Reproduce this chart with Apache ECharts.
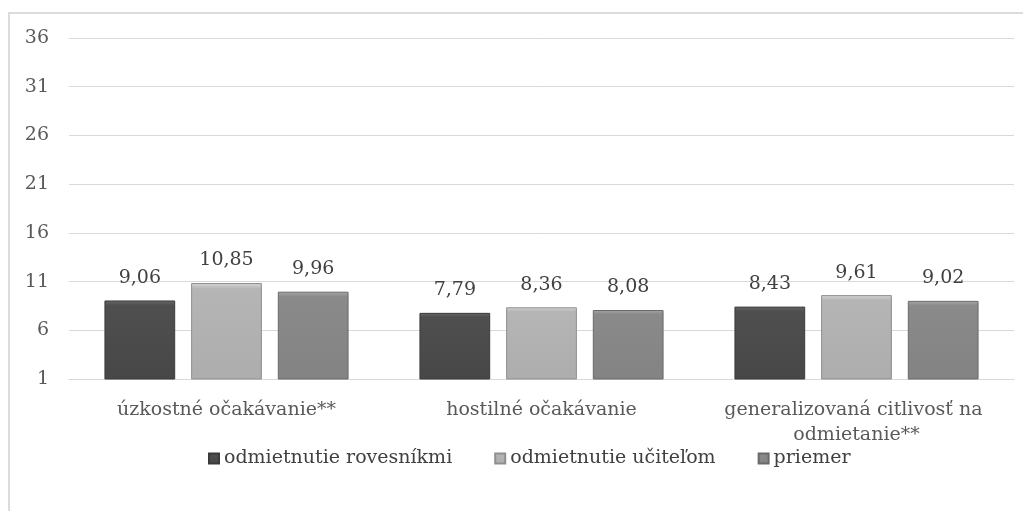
<!DOCTYPE html>
<html><head><meta charset="utf-8">
<script src="https://cdn.jsdelivr.net/npm/echarts@6/dist/echarts.min.js"></script>
<style>
html,body{margin:0;padding:0;background:#fff;}
#frame{position:absolute;left:8px;top:12px;width:1040px;height:530px;border:2px solid #dcdcdc;box-sizing:border-box;}
#main{position:absolute;left:0;top:0;width:1023px;height:511px;}
</style></head>
<body>
<div id="frame"></div>
<div id="main"></div>
<script>
const categories = ['úzkostné očakávanie**', 'hostilné očakávanie', 'generalizovaná citlivosť na odmietanie**'];
const seriesNames = ['odmietnutie rovesníkmi', 'odmietnutie učiteľom', 'priemer'];
const peers = [9.06, 7.79, 8.43];
const teacher = [10.85, 8.36, 9.61];
const average = [9.96, 8.08, 9.02];
const yTicks = [1, 6, 11, 16, 21, 26, 31, 36];

const FONT = 'DejaVu Serif';
const chart = echarts.init(document.getElementById('main'), null, {renderer: 'canvas'});
function grad(top, mid, bottom) {
  return new echarts.graphic.LinearGradient(0, 0, 0, 1, [
    {offset: 0, color: top}, {offset: 0.06, color: mid}, {offset: 1, color: bottom}
  ]);
}
const styles = [
  {color: grad('#6a6a6a', '#4f4f4f', '#474747'), borderColor: '#3a3a3a'},
  {color: grad('#d6d6d6', '#b5b5b5', '#adadad'), borderColor: '#8f8f8f'},
  {color: grad('#a8a8a8', '#8a8a8a', '#838383'), borderColor: '#6a6a6a'}
];
const values = [peers, teacher, average];
chart.setOption({
  animation: false,
  textStyle: {fontFamily: FONT},
  grid: {left: 69, right: 9, top: 38, bottom: 132, containLabel: false},
  legend: {
    bottom: 38, left: 203,
    itemWidth: 10, itemHeight: 10, itemGap: 42, icon: 'rect',
    textStyle: {fontFamily: FONT, fontSize: 19, color: '#404040'},
    data: seriesNames
  },
  xAxis: {
    type: 'category', data: categories,
    axisLine: {lineStyle: {color: '#d9d9d9', width: 1}},
    axisTick: {show: false},
    axisLabel: {fontFamily: FONT, fontSize: 19, color: '#595959', margin: 19, lineHeight: 25,
      width: 300, overflow: 'break', interval: 0}
  },
  yAxis: {
    type: 'value', min: 1, max: 36,
    axisLine: {show: false}, axisTick: {show: false, customValues: yTicks},
    axisLabel: {fontFamily: FONT, fontSize: 19, color: '#595959', margin: 20, customValues: yTicks},
    splitLine: {lineStyle: {color: '#d9d9d9', width: 1}}
  },
  series: values.map((v, i) => ({
    name: seriesNames[i], type: 'bar', data: v,
    barGap: '22.5%', barCategoryGap: '22.5%',
    itemStyle: Object.assign({borderWidth: 1}, styles[i]),
    label: {show: true, position: 'top', distance: 13, fontFamily: FONT, fontSize: 19, color: '#404040',
      formatter: p => p.value.toFixed(2).replace('.', ',')}
  }))
});
</script>
</body></html>
